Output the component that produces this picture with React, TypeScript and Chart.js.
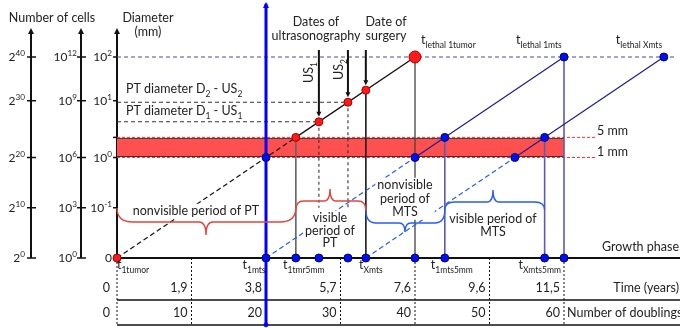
import React, { useEffect, useRef } from "react";
import { Chart, registerables } from "chart.js";

Chart.register(...registerables);

// x = number of doublings since the first tumour cell, y = log2(number of cells)
const doublingTicks = [0, 10, 20, 30, 40, 50, 60];
const timeYears = ["0", "1,9", "3,8", "5,7", "7,6", "9,6", "11,5"];
const doublingLabels = ["0", "10", "20", "30", "40", "50", "60"];

const cellTickLevels = [0, 10, 20, 31.3, 40];
const cellsPow2 = ["0", "10", "20", "30", "40"];
const cellsPow10 = ["0", "3", "6", "9", "12"];
const diameterBase = ["0", "10", "10", "10", "10"];
const diameterPow = ["", "-1", "0", "1", "2"];

const LEVEL_1MM = 20;
const LEVEL_5MM = 24;
const LEVEL_LETHAL = 40;
const LEVEL_BRACE = 10;

// primary tumour: start, 5 mm, US1, US2, surgery, lethal
const ptEvents = [0, 24, 27.1, 31, 33.4, 40];
// first metastasis: start, 1 mm, 5 mm, lethal
const mts1Events = [20, 40, 44, 60];
// last metastasis: start, 1 mm, 5 mm, lethal
const mtsXEvents = [33.4, 53.4, 57.4, 73.4];

const X_MIN = -15.705;
const X_MAX = 75.57;
const Y_MIN = -13.93;
const Y_MAX = 51.343;

const FONT = "Lato, 'Noto Sans', 'DejaVu Sans', sans-serif";
const TXT = "#222";

type Seg = { t: string; k?: "sub" | "sup" };

function setFont(ctx: CanvasRenderingContext2D, size: number) {
  ctx.font = `${size}px ${FONT}`;
}
function richWidth(ctx: CanvasRenderingContext2D, segs: Seg[], size: number) {
  let w = 0;
  for (const s of segs) {
    setFont(ctx, s.k ? size * 0.68 : size);
    w += ctx.measureText(s.t).width;
  }
  return w;
}
function drawRich(
  ctx: CanvasRenderingContext2D,
  segs: Seg[],
  x: number,
  y: number,
  size: number,
  align: "left" | "right" | "center" = "left",
  color = TXT
) {
  const w = richWidth(ctx, segs, size);
  let cx = align === "left" ? x : align === "right" ? x - w : x - w / 2;
  ctx.fillStyle = color;
  ctx.textAlign = "left";
  ctx.textBaseline = "alphabetic";
  for (const s of segs) {
    const sz = s.k ? size * 0.68 : size;
    setFont(ctx, sz);
    const dy = s.k === "sub" ? size * 0.3 : s.k === "sup" ? -size * 0.4 : 0;
    ctx.fillText(s.t, cx, y + dy);
    cx += ctx.measureText(s.t).width;
  }
  return w;
}
function textBlock(
  ctx: CanvasRenderingContext2D,
  lines: string[],
  cx: number,
  base0: number,
  lh: number,
  size: number,
  bg: boolean
) {
  setFont(ctx, size);
  if (bg) {
    const w = Math.max(...lines.map((l) => ctx.measureText(l).width));
    ctx.fillStyle = "#fff";
    ctx.fillRect(cx - w / 2 - 2, base0 - size * 0.9, w + 4, lh * (lines.length - 1) + size * 1.2);
  }
  lines.forEach((l, i) => drawRich(ctx, [{ t: l }], cx, base0 + i * lh, size, "center"));
}
function brace(
  ctx: CanvasRenderingContext2D,
  x1: number,
  x2: number,
  yEnd: number,
  yH: number,
  xt: number,
  yT: number,
  r: number,
  r2: number,
  color: string
) {
  ctx.save();
  ctx.strokeStyle = color;
  ctx.lineWidth = 1.4;
  ctx.setLineDash([]);
  ctx.beginPath();
  ctx.moveTo(x1, yEnd);
  ctx.quadraticCurveTo(x1, yH, x1 + r, yH);
  ctx.lineTo(xt - r2, yH);
  ctx.quadraticCurveTo(xt, yH, xt, yT);
  ctx.quadraticCurveTo(xt, yH, xt + r2, yH);
  ctx.lineTo(x2 - r, yH);
  ctx.quadraticCurveTo(x2, yH, x2, yEnd);
  ctx.stroke();
  ctx.restore();
}
function line(ctx: CanvasRenderingContext2D, x1: number, y1: number, x2: number, y2: number, color: string, w: number, dash: number[] = []) {
  ctx.save();
  ctx.strokeStyle = color;
  ctx.lineWidth = w;
  ctx.setLineDash(dash);
  ctx.beginPath();
  ctx.moveTo(x1, y1);
  ctx.lineTo(x2, y2);
  ctx.stroke();
  ctx.restore();
}
function arrowHead(ctx: CanvasRenderingContext2D, x: number, y: number, dir: 1 | -1, size: number, color: string) {
  ctx.save();
  ctx.fillStyle = color;
  ctx.beginPath();
  ctx.moveTo(x, y);
  ctx.lineTo(x - size / 2, y - dir * size);
  ctx.lineTo(x + size / 2, y - dir * size);
  ctx.closePath();
  ctx.fill();
  ctx.restore();
}

const behindPlugin = {
  id: "behind",
  beforeDatasetsDraw(chart: any) {
    const ctx: CanvasRenderingContext2D = chart.ctx;
    const xs = chart.scales.x;
    const ys = chart.scales.y;
    const X = (v: number) => xs.getPixelForValue(v);
    const Y = (v: number) => ys.getPixelForValue(v);
    const y0 = Y(0);
    const x0 = X(0);
    const right = chart.width;
    // table
    line(ctx, x0, y0, right, y0, "#111", 2);
    line(ctx, x0, y0 + 42, right, y0 + 42, "#111", 1.5);
    line(ctx, x0, y0 + 67, right, y0 + 67, "#111", 1.5);
    doublingTicks.forEach((d) => {
      if (d === mts1Events[0]) return;
      line(ctx, X(d), y0, X(d), y0 + 67, "#111", 1, [2, 2]);
    });
    // left axes
    const axes = [
      { x: 31, tl: 27, tr: 36, lab: 25 },
      { x: 81, tl: 77, tr: 86, lab: 77 },
      { x: x0, tl: x0 - 4, tr: x0, lab: 112 },
    ];
    axes.forEach((a, ai) => {
      line(ctx, a.x, y0, a.x, 34, "#111", 2);
      arrowHead(ctx, a.x, 28, -1, 6, "#111");
      cellTickLevels.forEach((lv, i) => {
        line(ctx, a.tl, Y(lv), a.tr, Y(lv), "#111", 1.5);
        const segs: Seg[] =
          ai === 0
            ? [{ t: "2" }, { t: cellsPow2[i], k: "sup" }]
            : ai === 1
            ? [{ t: "10" }, { t: cellsPow10[i], k: "sup" }]
            : diameterPow[i]
            ? [{ t: diameterBase[i] }, { t: diameterPow[i], k: "sup" }]
            : [{ t: diameterBase[i] }];
        drawRich(ctx, segs, a.lab, Y(lv) + 4, 12, "right");
      });
    });
    line(ctx, x0 - 4, Y(LEVEL_5MM), x0, Y(LEVEL_5MM), "#111", 1.5);
  },
  afterDatasetsDraw(chart: any) {
    const ctx: CanvasRenderingContext2D = chart.ctx;
    const xs = chart.scales.x;
    const ys = chart.scales.y;
    const X = (v: number) => xs.getPixelForValue(v);
    const Y = (v: number) => ys.getPixelForValue(v);
    const y0 = Y(0);
    const x0 = X(0);

    // titles
    drawRich(ctx, [{ t: "Number of cells" }], 52, 22, 12.5, "center");
    drawRich(ctx, [{ t: "Diameter" }], 148, 22, 12.5, "center");
    drawRich(ctx, [{ t: "(mm)" }], 148, 36, 12.5, "center");

    // period labels & braces
    textBlock(ctx, ["nonvisible period of PT"], 196, y0 - 43, 13, 12.5, true);
    brace(ctx, X(ptEvents[0]), X(ptEvents[1]), y0 - 50, y0 - 36, 206, y0 - 23, 16, 7, "#e2453c");
    textBlock(ctx, ["visible", "period of", "PT"], 330, y0 - 36, 12.5, 12.5, true);
    brace(ctx, X(ptEvents[1]), X(ptEvents[4]), y0 - 48, y0 - 57, 330, y0 - 69, 8, 6, "#e2453c");
    textBlock(ctx, ["nonvisible", "period of", "MTS"], 405, y0 - 69, 13.5, 12.5, true);
    brace(ctx, X(mtsXEvents[0]), X(mts1Events[2]), y0 - 48, y0 - 35, 405, y0 - 26, 10, 6, "#2a5cf0");
    textBlock(ctx, ["visible period of", "MTS"], 493, y0 - 35, 13, 12.5, true);
    brace(ctx, X(mts1Events[2]), X(mtsXEvents[2]), y0 - 48, y0 - 56, 493, y0 - 68, 10, 6, "#2a5cf0");

    // diameter labels
    drawRich(ctx, [{ t: "PT diameter D" }, { t: "2", k: "sub" }, { t: " - US" }, { t: "2", k: "sub" }], 126, 93, 12.5);
    drawRich(ctx, [{ t: "PT diameter D" }, { t: "1", k: "sub" }, { t: " - US" }, { t: "1", k: "sub" }], 126, 115, 12.5);
    drawRich(ctx, [{ t: "5 mm" }], 597, 135, 12.5);
    drawRich(ctx, [{ t: "1 mm" }], 597, 156, 12.5);

    // ultrasonography / surgery arrows
    textBlock(ctx, ["Dates of", "ultrasonography"], 316, 26, 13.5, 12.5, false);
    textBlock(ctx, ["Date of", "surgery"], 386, 26, 13.5, 12.5, false);
    [ptEvents[2], ptEvents[3], ptEvents[4]].forEach((d) => {
      const px = X(d);
      const py = Y(d) - 5;
      line(ctx, px, 50, px, py - 4, "#111", 2);
      arrowHead(ctx, px, py, 1, 5, "#111");
    });
    [
      { d: ptEvents[2], s: "1", dx: -10 },
      { d: ptEvents[3], s: "2", dx: -9 },
    ].forEach((u) => {
      ctx.save();
      ctx.translate(X(u.d) + u.dx + 4, u.s === "1" ? 83 : 80);
      ctx.rotate(-Math.PI / 2);
      drawRich(ctx, [{ t: "US" }, { t: u.s, k: "sub" }], 0, 0, 12.5);
      ctx.restore();
    });

    // lethal labels
    drawRich(ctx, [{ t: "t" }, { t: "lethal 1tumor", k: "sub" }], X(ptEvents[5]) + 6, 44, 12.5);
    drawRich(ctx, [{ t: "t" }, { t: "lethal 1mts", k: "sub" }], X(mts1Events[3]) - 48, 44, 12.5);
    drawRich(ctx, [{ t: "t" }, { t: "lethal Xmts", k: "sub" }], X(mtsXEvents[3]) - 48, 44, 12.5);

    // growth phase labels
    const tl = (d: number, sub: string, dx: number) =>
      drawRich(ctx, [{ t: "t" }, { t: sub, k: "sub" }], X(d) + dx, y0 + 11, 12.5, "center");
    tl(ptEvents[0], "1tumor", 16);
    tl(mts1Events[0], "1mts", -12);
    tl(ptEvents[1], "1tmr5mm", 8);
    tl(mtsXEvents[0], "Xmts", 5);
    tl(mts1Events[2], "1mts5mm", 7);
    tl(mtsXEvents[2], "Xmts5mm", -5);
    drawRich(ctx, [{ t: "Growth phase" }], 679, y0 - 7, 12.5, "right");

    // table text
    doublingTicks.forEach((d, i) => {
      const xr = i === 0 ? X(d) - 7 : X(d) - 4;
      drawRich(ctx, [{ t: timeYears[i] }], xr, y0 + 34, 12.5, "right");
      drawRich(ctx, [{ t: doublingLabels[i] }], xr, y0 + 59, 12.5, "right");
    });
    drawRich(ctx, [{ t: "Time (years)" }], 679, y0 + 34, 12.5, "right");
    drawRich(ctx, [{ t: "Number of doublings" }], X(60) + 3, y0 + 59, 12.5, "left");

    // t1mts axis arrow head
    arrowHead(ctx, X(mts1Events[0]), 2, -1, 6, "#0000ff");
  },
};

const seg = (pts: { x: number; y: number }[], color: string, width: number, dash: number[] = [], order = 5) => ({
  data: pts,
  showLine: true,
  borderColor: color,
  borderWidth: width,
  borderDash: dash,
  pointRadius: 0,
  fill: false,
  order,
});
const dots = (pts: { x: number; y: number }[], fillC: string, border: string, r: number) => ({
  data: pts,
  showLine: false,
  pointRadius: r,
  pointBackgroundColor: fillC,
  pointBorderColor: border,
  pointBorderWidth: 1,
  order: 0,
});
const vert = (x: number, top: number, bottom: number) => [
  { x, y: top },
  { x, y: bottom },
];

export default function App() {
  const ref = useRef<HTMLCanvasElement | null>(null);
  useEffect(() => {
    if (!ref.current) return;
    const RED = "#ff1a1a";
    const RED_B = "#a00000";
    const BLUE = "#0010ee";
    const BLUE_B = "#000080";
    const SLATE = "#5a5ab8";
    const NAVY = "#1c1c90";
    const DBLUE = "#2a5cf0";
    const baselineBlue = [mts1Events[0], ptEvents[1], ptEvents[2], ptEvents[3], ptEvents[4], ptEvents[5], mts1Events[2], mtsXEvents[2], mts1Events[3]];
    const datasets: any[] = [
      // red band between 1 mm and 5 mm
      { ...seg([{ x: 0, y: LEVEL_5MM - 0.2 }, { x: mts1Events[3], y: LEVEL_5MM - 0.2 }], "#333", 1, [], 10), fill: { value: LEVEL_1MM + 0.2 }, backgroundColor: "#ff5050" },
      seg([{ x: 0, y: LEVEL_1MM + 0.2 }, { x: mts1Events[3], y: LEVEL_1MM + 0.2 }], "#333", 1, [], 9),
      seg([{ x: 0, y: LEVEL_5MM }, { x: 64.2, y: LEVEL_5MM }], "#ff3030", 1, [3, 2], 8),
      seg([{ x: 0, y: LEVEL_1MM }, { x: 64.2, y: LEVEL_1MM }], "#ff3030", 1, [3, 2], 8),
      // lethal level & ultrasonography diameters
      seg([{ x: 0, y: LEVEL_LETHAL }, { x: 75, y: LEVEL_LETHAL }], "#4a4aa8", 1.2, [4, 3], 8),
      seg([{ x: 0, y: ptEvents[2] }, { x: ptEvents[2], y: ptEvents[2] }], "#333", 1.1, [4, 3], 8),
      seg([{ x: 0, y: ptEvents[3] }, { x: ptEvents[3], y: ptEvents[3] }], "#333", 1.1, [4, 3], 8),
      // vertical event lines
      seg(vert(ptEvents[1], LEVEL_5MM, 0), "#666", 1, [], 7),
      seg(vert(ptEvents[2], ptEvents[2], LEVEL_BRACE), "#333", 1.1, [3, 3], 7),
      seg(vert(ptEvents[3], ptEvents[3], LEVEL_BRACE), "#333", 1.1, [3, 3], 7),
      seg(vert(ptEvents[4], ptEvents[4], 0), "#222", 1, [], 7),
      seg(vert(ptEvents[5], LEVEL_LETHAL, 0), "#444", 1.3, [], 7),
      seg(vert(mts1Events[2], LEVEL_5MM, 0), SLATE, 1.6, [], 7),
      seg(vert(mtsXEvents[2], LEVEL_5MM, 0), SLATE, 1.6, [], 7),
      seg(vert(mts1Events[3], LEVEL_LETHAL, 0), SLATE, 1.6, [], 7),
      // growth lines
      seg([{ x: ptEvents[0], y: 0 }, { x: ptEvents[1], y: LEVEL_5MM }], "#111", 1.2, [5, 3], 6),
      seg([{ x: ptEvents[1], y: LEVEL_5MM }, { x: ptEvents[5], y: LEVEL_LETHAL }], "#111", 1.3, [], 6),
      seg([{ x: mts1Events[0], y: 0 }, { x: mts1Events[1], y: LEVEL_1MM }], DBLUE, 1.2, [5, 3], 6),
      seg([{ x: mts1Events[1], y: LEVEL_1MM }, { x: mts1Events[3], y: LEVEL_LETHAL }], NAVY, 1.2, [], 6),
      seg([{ x: mtsXEvents[0], y: 0 }, { x: mtsXEvents[1], y: LEVEL_1MM }], DBLUE, 1.2, [5, 3], 6),
      seg([{ x: mtsXEvents[1], y: LEVEL_1MM }, { x: mtsXEvents[3], y: LEVEL_LETHAL }], NAVY, 1.2, [], 6),
      // first metastasis time axis
      seg(vert(mts1Events[0], 50.6, -13.3), "#0000ff", 3, [], 4),
      // points
      dots(
        [
          { x: ptEvents[1], y: ptEvents[1] },
          { x: ptEvents[2], y: ptEvents[2] },
          { x: ptEvents[3], y: ptEvents[3] },
          { x: ptEvents[4], y: ptEvents[4] },
          { x: ptEvents[0], y: 0 },
        ],
        RED,
        RED_B,
        4
      ),
      dots([{ x: ptEvents[5], y: LEVEL_LETHAL }], RED, RED_B, 6),
      dots(
        [
          { x: mts1Events[0], y: LEVEL_1MM },
          { x: mts1Events[1], y: LEVEL_1MM },
          { x: mts1Events[2], y: LEVEL_5MM },
          { x: mtsXEvents[1], y: LEVEL_1MM },
          { x: mtsXEvents[2], y: LEVEL_5MM },
          { x: mts1Events[3], y: LEVEL_LETHAL },
          { x: mtsXEvents[3], y: LEVEL_LETHAL },
          ...baselineBlue.map((d) => ({ x: d, y: 0 })),
        ],
        BLUE,
        BLUE_B,
        4
      ),
      dots([{ x: mts1Events[0], y: -13.3 }], "#0000ff", "#0000ff", 2),
    ];
    const chart = new Chart(ref.current, {
      type: "scatter",
      data: { datasets },
      options: {
        animation: false,
        responsive: false,
        events: [],
        layout: { padding: 0, autoPadding: false },
        plugins: { legend: { display: false }, tooltip: { enabled: false } },
        scales: {
          x: { type: "linear", display: false, min: X_MIN, max: X_MAX },
          y: { type: "linear", display: false, min: Y_MIN, max: Y_MAX },
        },
      } as any,
      plugins: [behindPlugin as any],
    });
    return () => chart.destroy();
  }, []);
  return (
    <div style={{ position: "fixed", left: 0, top: 0, width: 680, height: 328, background: "#fff" }}>
      <canvas ref={ref} width={680} height={328} style={{ width: 680, height: 328, display: "block" }} />
    </div>
  );
}
